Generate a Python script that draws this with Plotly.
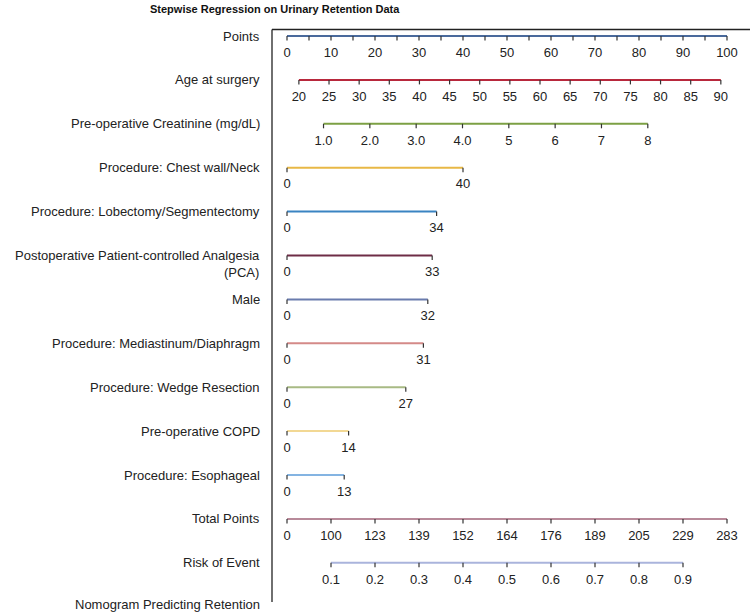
import plotly.graph_objects as go

# ---------------- data ----------------
title = "Stepwise Regression on Urinary Retention Data"
footer = "Nomogram Predicting Retention"

row_labels = [
    "Points",
    "Age at surgery",
    "Pre-operative Creatinine (mg/dL)",
    "Procedure: Chest wall/Neck",
    "Procedure: Lobectomy/Segmentectomy",
    "Postoperative Patient-controlled Analgesia<br>(PCA)",
    "Male",
    "Procedure: Mediastinum/Diaphragm",
    "Procedure: Wedge Resection",
    "Pre-operative COPD",
    "Procedure: Esophageal",
    "Total Points",
    "Risk of Event",
]
row_colors = ["#4a6a9c", "#b8283c", "#7ca044", "#e8b846", "#3a84c2", "#6e2c46",
              "#6a7cae", "#d48a88", "#a8ba84", "#f2d894", "#84b4e2", "#b88a9a", "#aab4dc"]

# Points scale
points_ticks = list(range(0, 101, 5))
points_labels = [str(v) if v % 10 == 0 else "" for v in points_ticks]

# Age at surgery (20 -> 2.7 pts, 90 -> 98.6 pts)
age_values = list(range(20, 91, 5))
age_pts_min, age_pts_max = 2.7, 98.6

# Creatinine (1 -> 8.3 pts, 8 -> 82.0 pts)
creat_values = [1, 2, 3, 4, 5, 6, 7, 8]
creat_labels = ["1.0", "2.0", "3.0", "4.0", "5", "6", "7", "8"]
creat_pts_min, creat_pts_max = 8.3, 82.0

# Binary predictors: points when present
binary_points = [40, 34, 33, 32, 31, 27, 14, 13]

# Total points and risk
total_labels = [0, 100, 123, 139, 152, 164, 176, 189, 205, 229, 283]
risk_labels = ["0.1", "0.2", "0.3", "0.4", "0.5", "0.6", "0.7", "0.8", "0.9"]

# ---------------- build rows ----------------
rows = []  # list of (positions in points-units, labels)
rows.append((points_ticks, points_labels))
rows.append(([age_pts_min + (a - age_values[0]) * (age_pts_max - age_pts_min) / (age_values[-1] - age_values[0])
              for a in age_values], [str(a) for a in age_values]))
rows.append(([creat_pts_min + (c - creat_values[0]) * (creat_pts_max - creat_pts_min) / (creat_values[-1] - creat_values[0])
              for c in creat_values], creat_labels))
for bp in binary_points:
    rows.append(([0, bp], ["0", str(bp)]))
n_tot = len(total_labels) - 1
rows.append(([100 * i / n_tot for i in range(len(total_labels))], [str(v) for v in total_labels]))
rows.append(([100 * (i + 1) / n_tot for i in range(len(risk_labels))], risk_labels))

# ---------------- geometry ----------------
W, H = 750, 613
px_per_pt = 4.4
x0_px = 287
row0_px = 36.0
row_px = 43.9
xr = [-x0_px / px_per_pt, (W - x0_px) / px_per_pt]
yr = [(H - row0_px) / row_px, -row0_px / row_px]
tick_len = 4.5 / row_px
lab_off = 17.5 / row_px
FONT = "Liberation Sans, Arial"

fig = go.Figure()
for i, (pos, labs) in enumerate(rows):
    fig.add_trace(go.Scatter(x=[pos[0], pos[-1]], y=[i, i], mode="lines",
                             line=dict(color=row_colors[i], width=2), hoverinfo="skip", showlegend=False))
    tx, ty = [], []
    for p in pos:
        tx += [p, p, None]
        ty += [i, i + tick_len, None]
    fig.add_trace(go.Scatter(x=tx, y=ty, mode="lines", line=dict(color="#333333", width=1.2),
                             hoverinfo="skip", showlegend=False))
    fig.add_trace(go.Scatter(x=pos, y=[i + lab_off] * len(pos), mode="text", text=labs,
                             textposition="middle center",
                             textfont=dict(family=FONT, size=13, color="#222222"),
                             hoverinfo="skip", showlegend=False))

# frame lines
left_x = (272 - x0_px) / px_per_pt
top_y = (29.5 - row0_px) / row_px
bot_y = (602 - row0_px) / row_px
fig.add_shape(type="line", x0=left_x, x1=xr[1] + 5, y0=top_y, y1=top_y, line=dict(color="#222222", width=1.3))
fig.add_shape(type="line", x0=left_x, x1=left_x, y0=top_y, y1=bot_y, line=dict(color="#222222", width=1.3))

# row labels
lab_x = 262 / W
for i, lab in enumerate(row_labels):
    fig.add_annotation(x=lab_x, xref="paper", y=i, yref="y", text=lab, showarrow=False,
                       xanchor="right", yanchor="middle", align="right",
                       yshift=-8 if "<br>" in lab else 0,
                       font=dict(family=FONT, size=13, color="#222222"))
fig.add_annotation(x=lab_x, xref="paper", y=(604 - row0_px) / row_px, yref="y", text=footer,
                   showarrow=False, xanchor="right", yanchor="middle",
                   font=dict(family=FONT, size=13, color="#222222"))
fig.add_annotation(x=275 / W, xref="paper", y=1 - 9 / H, yref="paper", text="<b>" + title + "</b>",
                   showarrow=False, xanchor="center", yanchor="middle",
                   font=dict(family=FONT, size=11, color="#111111"))

fig.update_layout(width=W, height=H, margin=dict(l=0, r=0, t=0, b=0),
                  paper_bgcolor="white", plot_bgcolor="white",
                  xaxis=dict(range=xr, visible=False, fixedrange=True),
                  yaxis=dict(range=yr, visible=False, fixedrange=True))
fig.write_html("out.html", config={"displayModeBar": False},
               post_script="document.body.style.margin='0';document.body.style.overflow='hidden';")
